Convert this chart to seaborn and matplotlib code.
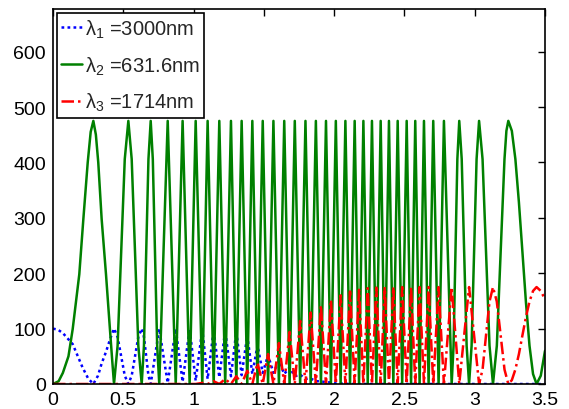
import numpy as np
import pandas as pd
import matplotlib
matplotlib.use("Agg")
import matplotlib.pyplot as plt
import seaborn as sns

# Positions along x where the green wave peaks (crests) and vanishes (nodes).
crest_x = [0.287, 0.536, 0.695, 0.816, 0.922, 1.015, 1.100, 1.183, 1.266, 1.342,
           1.418, 1.492, 1.568, 1.645, 1.720, 1.796, 1.870, 1.942, 2.012, 2.080,
           2.146, 2.208, 2.269, 2.331, 2.390, 2.452, 2.516, 2.577, 2.639, 2.705,
           2.781, 2.890, 3.031, 3.239]
node_x = [0.0, 0.434, 0.631, 0.756, 0.873, 0.972, 1.062, 1.143, 1.225, 1.304,
          1.382, 1.455, 1.530, 1.607, 1.683, 1.758, 1.833, 1.906, 1.977, 2.046,
          2.113, 2.177, 2.239, 2.300, 2.360, 2.421, 2.484, 2.547, 2.608, 2.672,
          2.743, 2.836, 2.960, 3.130, 3.440]
x_end = 3.5

# lambda_2 (green): crest height, value at the right edge, flank points of wide lobes
green_crest_y = 475
green_end_y = 60
green_flank_x = [0.04, 0.07, 0.11, 0.14, 0.187, 0.216, 0.247, 0.268,
                 0.305, 0.322, 0.346, 0.377, 0.405, 0.422,
                 0.4595, 0.485, 0.5105, 0.5598, 0.5835, 0.607,
                 0.647, 0.663, 0.679, 0.710, 0.7255, 0.741,
                 0.786, 0.8445, 0.8975, 0.947,
                 2.762, 2.8085, 2.8495, 2.863, 2.8765, 2.9075, 2.925, 2.9425,
                 2.9778, 2.9955, 3.0133, 3.0558, 3.0805, 3.1053,
                 3.1573, 3.1845, 3.2118, 3.2254,
                 3.2641, 3.2893, 3.3144, 3.3395, 3.3646, 3.3898, 3.4149, 3.47]
green_flank_y = [5, 20, 50, 99, 198, 298, 400, 455,
                 450, 400, 298, 198, 99, 40,
                 69, 238, 406, 406, 238, 69,
                 69, 238, 406, 406, 238, 69,
                 238, 238, 238, 238,
                 238, 238, 69, 238, 406, 406, 238, 69,
                 69, 238, 406, 406, 238, 69,
                 69, 238, 406, 457,
                 457, 406, 328, 238, 147, 69, 18, 15]

# lambda_1 (blue): values at nodes (its maxima) and crests (its minima)
blue_node_y = [100, 100, 100, 100, 100, 100, 99, 98, 97, 95,
               88, 70, 52, 42, 30, 17, 10, 5, 3, 1]
blue_crest_y = [0, 0, 0, 2, 4, 6, 9, 12, 14, 16,
                18, 20, 20, 18, 14, 9, 5, 3, 1, 0.5]
blue_flank_x = [0.035, 0.07, 0.14, 0.21, 0.25, 0.32, 0.346, 0.377, 0.405,
                0.4595, 0.485, 0.5105, 0.5598, 0.5835, 0.607,
                0.647, 0.663, 0.679, 0.7255, 0.786, 0.8445, 0.8975]
blue_flank_y = [98, 92, 72, 30, 10, 15, 37, 58, 80,
                85, 50, 15, 15, 50, 85,
                85, 50, 15, 50, 50, 51, 52]

# lambda_3 (red): values at nodes (its maxima); it returns to 0 at every crest
red_node_y = [0, 0, 0, 0, 0, 0, 2, 5, 9, 14,
              24, 38, 54, 74, 94, 114, 129, 142, 152, 160,
              167, 170, 173, 174, 175, 175, 175, 175, 175, 175,
              175, 175, 175, 175, 175]
red_end_y = 153
red_flank_x = [2.8085, 2.863, 2.925, 2.9955,
               3.0558, 3.0805, 3.1053, 3.157, 3.1845, 3.212,
               3.2641, 3.289, 3.3144, 3.3395, 3.3646, 3.3898, 3.4149, 3.47]
red_flank_y = [88, 88, 88, 88,
               26, 88, 149, 149, 88, 26,
               7, 26, 54, 88, 121, 149, 168, 168]


def assemble(xs, ys):
    x = np.concatenate([np.asarray(v, float) for v in xs])
    y = np.concatenate([np.asarray(v, float) for v in ys])
    order = np.argsort(x, kind="stable")
    return pd.DataFrame({"x": x[order], "y": y[order]})


green = assemble(
    [node_x, crest_x, green_flank_x, [x_end]],
    [np.zeros(len(node_x)), np.full(len(crest_x), green_crest_y), green_flank_y, [green_end_y]],
)
nb, cb = len(blue_node_y), len(blue_crest_y)
blue = assemble(
    [node_x[:nb], crest_x[:cb], blue_flank_x, [node_x[nb], x_end]],
    [blue_node_y, blue_crest_y, blue_flank_y, [0, 0]],
)
red = assemble(
    [node_x, crest_x, red_flank_x, [x_end]],
    [red_node_y, np.zeros(len(crest_x)), red_flank_y, [red_end_y]],
)

sns.set_theme(style="white")
plt.rcParams["font.family"] = ["Liberation Sans", "DejaVu Sans"]
plt.rcParams["mathtext.fontset"] = "custom"
plt.rcParams["mathtext.rm"] = "Liberation Sans"
plt.rcParams["mathtext.it"] = "Liberation Sans:italic"

fig = plt.figure(figsize=(5.69, 4.10), dpi=100)
ax = fig.add_axes([53 / 569, 25 / 410, 492 / 569, 375 / 410])

common = dict(ax=ax, x="x", y="y", lw=1.8, sort=False, estimator=None,
              solid_joinstyle="round", dash_joinstyle="round")
sns.lineplot(data=blue, color="#0000ff", linestyle=(0, (1.1, 1.3)),
             label="λ$_1$ =3000nm", **common)
sns.lineplot(data=green, color="#008000", linestyle="-",
             label="λ$_2$ =631.6nm", **common)
sns.lineplot(data=red, color="#ff0000", linestyle=(0, (5, 1.6, 1, 1.6)),
             label="λ$_3$ =1714nm", **common)

ax.set_xlim(0, 3.5)
ax.set_ylim(0, 677)
ax.set_xticks(np.arange(0, 3.51, 0.5))
ax.set_xticklabels(["0", "0.5", "1", "1.5", "2", "2.5", "3", "3.5"])
ax.set_yticks(np.arange(0, 601, 100))
ax.set_xlabel("")
ax.set_ylabel("")
ax.tick_params(direction="in", length=5, width=1, top=True, right=True,
               labelsize=14, colors="black", pad=5)
for s in ax.spines.values():
    s.set_color("black")
    s.set_linewidth(1.2)

leg = ax.legend(loc="upper left", fontsize=14.5, handlelength=1.0, handletextpad=0.15,
                labelspacing=0.72, borderpad=0.22, borderaxespad=0.2,
                fancybox=False, framealpha=1, edgecolor="black")
leg.get_frame().set_linewidth(1.2)

fig.savefig("out.png", dpi=100, facecolor="white")
